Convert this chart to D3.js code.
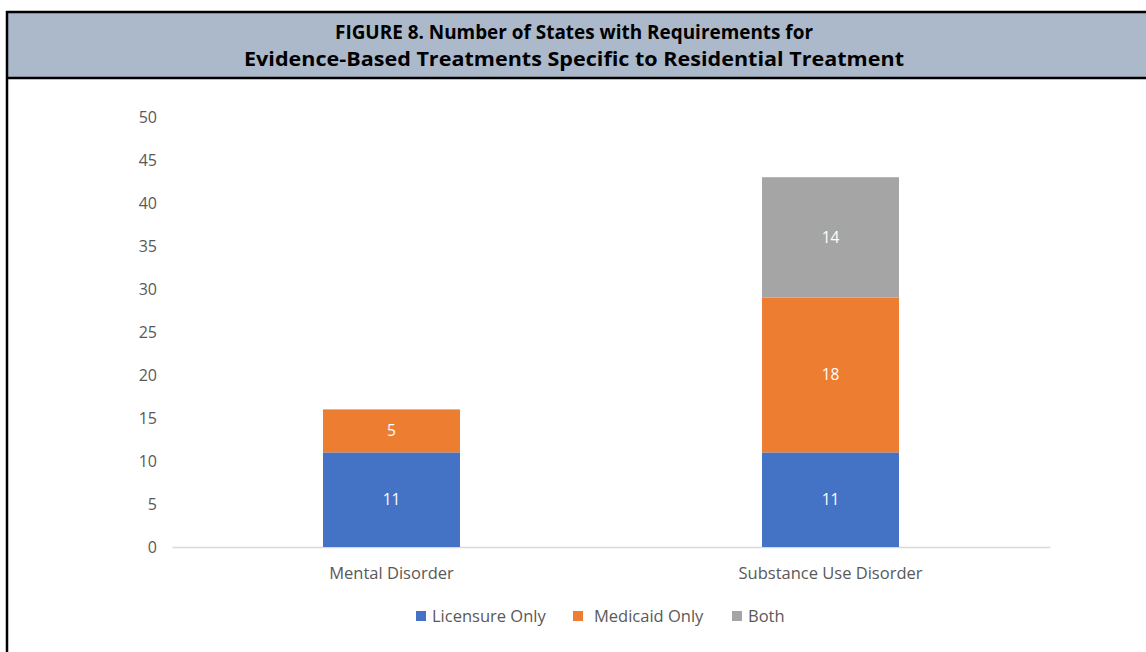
<!DOCTYPE html>
<html><head><meta charset="utf-8">
<script src="https://cdn.jsdelivr.net/npm/d3@7"></script>
<style>body{margin:0;background:#fff}svg{display:block}</style>
</head><body>
<svg id="c" width="1146" height="652"></svg>
<script>
const titleLines = ["FIGURE 8. Number of States with Requirements for", "Evidence-Based Treatments Specific to Residential Treatment"];
const categories = ["Mental Disorder", "Substance Use Disorder"];
const seriesNames = ["Licensure Only", "Medicaid Only", "Both"];
const licensureOnly = [11, 11];
const medicaidOnly = [5, 18];
const both = [0, 14];
const yTicks = [0, 5, 10, 15, 20, 25, 30, 35, 40, 45, 50];
const colors = ["#4472C4", "#ED7D31", "#A5A5A5"];

(function () {
const svg = d3.select("#c");
const font = "'Open Sans', sans-serif";
// frame and header
svg.append("rect").attr("x", 7).attr("y", 12).attr("width", 1146).attr("height", 66).attr("fill", "#ACB9CA");
svg.append("line").attr("x1", 6).attr("x2", 1146).attr("y1", 12).attr("y2", 12).attr("stroke", "#000").attr("stroke-width", 2.5);
svg.append("line").attr("x1", 6).attr("x2", 1146).attr("y1", 78).attr("y2", 78).attr("stroke", "#000").attr("stroke-width", 2.5);
svg.append("line").attr("x1", 7).attr("x2", 7).attr("y1", 11).attr("y2", 652).attr("stroke", "#000").attr("stroke-width", 2.5);
svg.selectAll("text.title").data(titleLines).enter().append("text")
  .attr("x", 574).attr("y", (d, i) => 39 + i * 27)
  .attr("text-anchor", "middle").attr("font-family", font)
  .attr("font-weight", "bold").attr("font-size", 20).attr("fill", "#000")
  .attr("textLength", (d, i) => i === 0 ? 478 : 660).attr("lengthAdjust", "spacingAndGlyphs")
  .text(d => d);

const mLeft = 172, mRight = 1050, mTop = 117, mBottom = 547;
const x = d3.scaleBand().domain(categories).range([mLeft, mRight]).paddingInner(0.688).paddingOuter(0.344);
const y = d3.scaleLinear().domain([0, 50]).range([mBottom, mTop]);

const rows = categories.map((c, i) => ({cat: c, "Licensure Only": licensureOnly[i], "Medicaid Only": medicaidOnly[i], "Both": both[i]}));
const stacked = d3.stack().keys(seriesNames)(rows);

// y axis labels
const yAxis = d3.axisLeft(y).tickValues(yTicks).tickSize(0).tickPadding(0);
const ga = svg.append("g").attr("transform", `translate(${mLeft - 15},0)`).call(yAxis);
ga.select(".domain").remove();
ga.selectAll("text").attr("font-family", font).attr("font-size", 16).attr("fill", "#595959");

// x axis
const xAxis = d3.axisBottom(x).tickSize(0).tickPadding(20);
const gx = svg.append("g").attr("transform", `translate(0,${mBottom})`).call(xAxis);
gx.select(".domain").attr("stroke", "#D9D9D9").attr("stroke-width", 1.5);
gx.selectAll("text").attr("font-family", font).attr("font-size", 16.5).attr("fill", "#595959");

// bars
stacked.forEach((s, si) => {
  const g = svg.append("g");
  const segs = s.filter(d => d[1] - d[0] > 0);
  g.selectAll("rect").data(segs).enter().append("rect")
    .attr("x", d => x(d.data.cat)).attr("width", x.bandwidth())
    .attr("y", d => y(d[1])).attr("height", d => y(d[0]) - y(d[1]))
    .attr("fill", colors[si]);
  g.selectAll("text").data(segs).enter().append("text")
    .attr("x", d => x(d.data.cat) + x.bandwidth() / 2)
    .attr("y", d => (y(d[0]) + y(d[1])) / 2)
    .attr("dy", "0.35em").attr("text-anchor", "middle")
    .attr("font-family", font).attr("font-size", 15.5).attr("fill", "#fff")
    .text(d => d[1] - d[0]);
});

// legend
const legendX = [416, 573, 732];
const lg = svg.append("g");
seriesNames.forEach((n, i) => {
  lg.append("rect").attr("x", legendX[i]).attr("y", 611).attr("width", 10).attr("height", 10).attr("fill", colors[i]);
  lg.append("text").attr("x", legendX[i] + (i === 1 ? 21 : 16)).attr("y", 616).attr("dy", "0.35em")
    .attr("font-family", font).attr("font-size", 16.5).attr("fill", "#595959").text(n);
});
})();
</script>
</body></html>
